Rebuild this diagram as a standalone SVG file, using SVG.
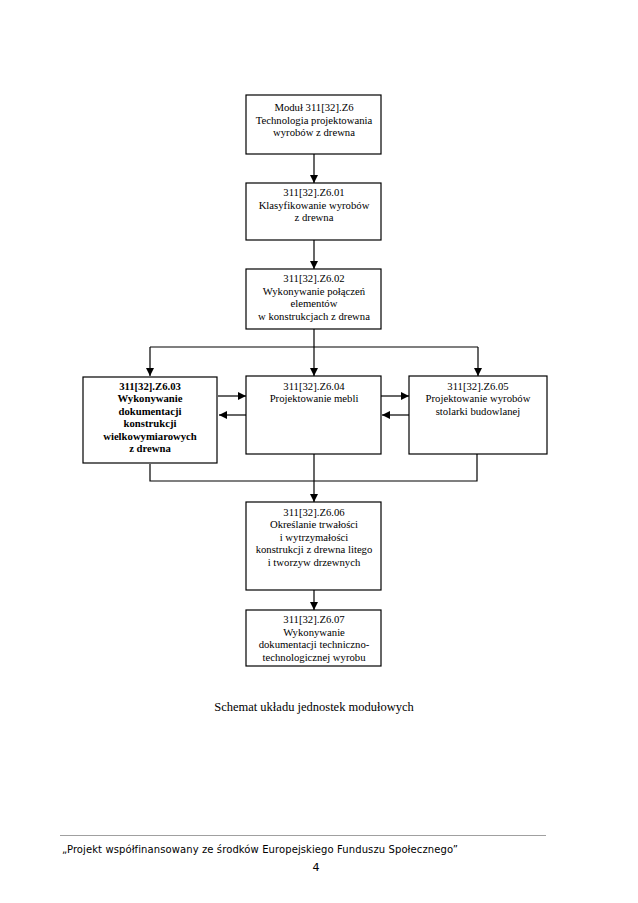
<svg xmlns="http://www.w3.org/2000/svg" width="638" height="903" viewBox="0 0 638 903">
<style>
.b{fill:#fff;stroke:#000;stroke-width:1.2}
.t{font-family:"Liberation Serif",serif;font-size:10.7px;text-anchor:middle;fill:#000}
.tb{font-weight:bold}
.c{stroke:#000;stroke-width:1.2;fill:none}
</style>
<defs>
<marker id="a" viewBox="0 0 10 10" refX="10" refY="5" markerWidth="8" markerHeight="8" markerUnits="userSpaceOnUse" orient="auto"><path d="M0,0L10,5L0,10z" fill="#000"/></marker>
</defs>
<rect width="638" height="903" fill="#fff"/>
<g id="connectors">
<path class="c" d="M314,154V183" marker-end="url(#a)"/>
<path class="c" d="M314,240V269" marker-end="url(#a)"/>
<path class="c" d="M314,329V376" marker-end="url(#a)"/>
<path class="c" d="M150,347H478"/>
<path class="c" d="M150,347V376" marker-end="url(#a)"/>
<path class="c" d="M478,347V376" marker-end="url(#a)"/>
<path class="c" d="M218,396H246" marker-end="url(#a)"/>
<path class="c" d="M246,415H219" marker-end="url(#a)"/>
<path class="c" d="M381,396H409" marker-end="url(#a)"/>
<path class="c" d="M409,415H382" marker-end="url(#a)"/>
<path class="c" d="M150,464V481H477V454"/>
<path class="c" d="M314,454V502" marker-end="url(#a)"/>
<path class="c" d="M314,590V610" marker-end="url(#a)"/>
</g>
<g id="n1"><rect class="b" x="246" y="95" width="135" height="59"/>
<text class="t" x="314" y="111">Moduł 311[32].Z6</text><text class="t" x="314" y="123.5">Technologia projektowania</text><text class="t" x="314" y="136">wyrobów z drewna</text></g>
<g id="n2"><rect class="b" x="246" y="183" width="135" height="57"/>
<text class="t" x="314" y="196">311[32].Z6.01</text><text class="t" x="314" y="208.5">Klasyfikowanie wyrobów</text><text class="t" x="314" y="221">z drewna</text></g>
<g id="n3"><rect class="b" x="246" y="269" width="135" height="60"/>
<text class="t" x="314" y="282">311[32].Z6.02</text><text class="t" x="314" y="294.5">Wykonywanie połączeń</text><text class="t" x="314" y="307">elementów</text><text class="t" x="314" y="319.5">w konstrukcjach z drewna</text></g>
<g id="n4"><rect class="b" x="83" y="377" width="134" height="86" stroke-width="2.8"/>
<text class="t tb" x="150" y="389.5">311[32].Z6.03</text><text class="t tb" x="150" y="402">Wykonywanie</text><text class="t tb" x="150" y="414.5">dokumentacji</text><text class="t tb" x="150" y="427">konstrukcji</text><text class="t tb" x="150" y="439.5">wielkowymiarowych</text><text class="t tb" x="150" y="452">z drewna</text></g>
<g id="n5"><rect class="b" x="246" y="376" width="135" height="78"/>
<text class="t" x="314" y="389.5">311[32].Z6.04</text><text class="t" x="314" y="402">Projektowanie mebli</text></g>
<g id="n6"><rect class="b" x="409" y="376" width="138" height="78"/>
<text class="t" x="478" y="389.5">311[32].Z6.05</text><text class="t" x="478" y="402">Projektowanie wyrobów</text><text class="t" x="478" y="414.5">stolarki budowlanej</text></g>
<g id="n7"><rect class="b" x="246" y="502" width="135" height="88"/>
<text class="t" x="314" y="515.5">311[32].Z6.06</text><text class="t" x="314" y="528">Określanie trwałości</text><text class="t" x="314" y="540.5">i wytrzymałości</text><text class="t" x="314" y="553">konstrukcji z drewna litego</text><text class="t" x="314" y="565.5">i tworzyw drzewnych</text></g>
<g id="n8"><rect class="b" x="246" y="610" width="135" height="56"/>
<text class="t" x="314" y="623">311[32].Z6.07</text><text class="t" x="314" y="635.5">Wykonywanie</text><text class="t" x="314" y="648">dokumentacji techniczno-</text><text class="t" x="314" y="660.5">technologicznej wyrobu</text></g>
<text x="314" y="711" font-family="Liberation Serif,serif" font-size="12.5" text-anchor="middle">Schemat układu jednostek modułowych</text>
<line x1="60" y1="835.5" x2="546" y2="835.5" stroke="#888" stroke-width="0.8"/>
<text x="62" y="853" font-family="DejaVu Sans,sans-serif" font-size="10" letter-spacing="0.1">„Projekt współfinansowany ze środków Europejskiego Funduszu Społecznego”</text>
<text x="316" y="871" font-family="DejaVu Sans,sans-serif" font-size="11" text-anchor="middle">4</text>
</svg>
